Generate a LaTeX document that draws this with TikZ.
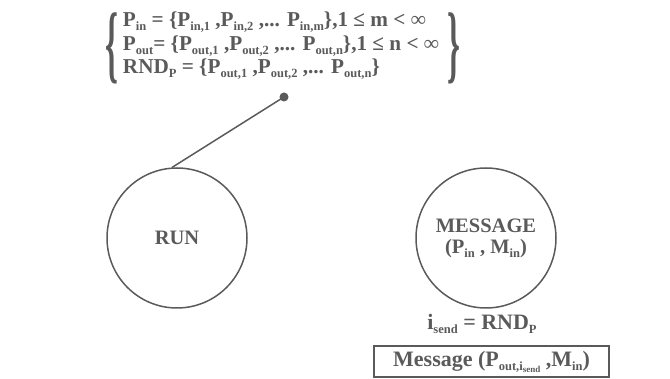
\documentclass[tikz,border=0pt]{standalone}
\usepackage{fontspec}
\setmainfont{Liberation Serif}
\usepackage{xcolor}
\usepackage{graphicx}
\usetikzlibrary{positioning}
\definecolor{inkgray}{HTML}{5A5A5A}
\newcommand{\sub}[1]{\raisebox{-4pt}{\fontsize{12.5}{13}\selectfont #1}}
\newcommand{\subsub}[1]{\raisebox{-2pt}{\fontsize{9}{9}\selectfont #1}}
\tikzset{
  proc/.style={draw=inkgray,line width=1.5pt,circle,minimum size=140pt,inner sep=0pt,align=center},
  lbl/.style={text=inkgray,font=\bfseries\fontsize{20.5}{24}\selectfont,align=center},
  big/.style={lbl,font=\bfseries\fontsize{22}{24}\selectfont}
}
\begin{document}
\begin{tikzpicture}[x=1pt,y=-1pt]
  \useasboundingbox (0,0) rectangle (670,379);
  \node[big,inner sep=0pt,align=left,font=\bfseries\fontsize{21.2}{23.5}\selectfont] (sets) at (281,46) {%
        P\sub{in} = \{P\sub{in,1} ,P\sub{in,2} ,... P\sub{in,m}\},1 ≤ m < ∞\\
        P\sub{out}= \{P\sub{out,1} ,P\sub{out,2} ,... P\sub{out,n}\},1 ≤ n < ∞\\
        RND\sub{P} = \{P\sub{out,1} ,P\sub{out,2} ,... P\sub{out,n}\}};
  % big braces round the three sets
  \node[lbl,inner sep=0pt] (lbrace) at (112,48) {\scalebox{1.6}[4.2]{\{}};
  \node[lbl,inner sep=0pt] (rbrace) at (454,48) {\scalebox{1.6}[4.2]{\}}};
  \node[proc,lbl] (run) at (177,238) {RUN};
  \node[proc,lbl] (msg) at (486,238) {MESSAGE\\[-3pt](P\sub{in} , M\sub{in})};
  \coordinate (pin) at (284,97);
  \fill[inkgray] (pin) circle (4.5pt);
  \draw[inkgray,line width=1.5pt] (pin) -- (run.94);
  \node[big] (isend) at (482,324) {i\sub{send} = RND\sub{P}};
  \node[big,draw=inkgray,line width=1.5pt,minimum width=235pt,minimum height=31pt,inner sep=0pt] (out) at (491.5,361.5) {Message (P\sub{out,i\subsub{send}} ,M\sub{in})};
\end{tikzpicture}
\end{document}
